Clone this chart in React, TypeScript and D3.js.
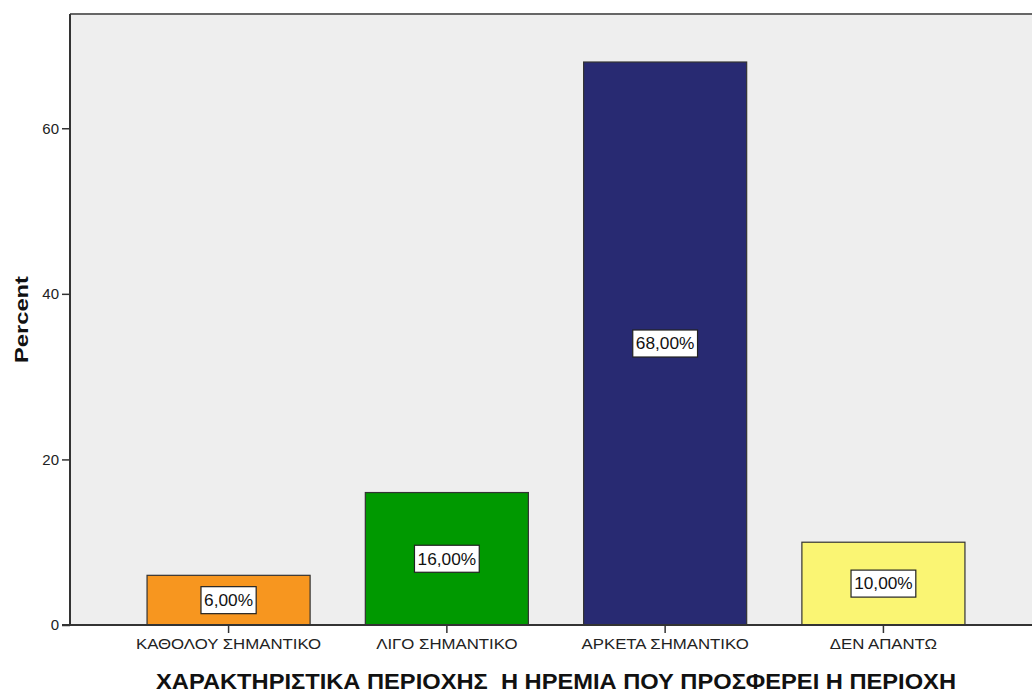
import React, { useEffect, useRef } from "react";
import * as d3 from "d3";

const categories = ["ΚΑΘΟΛΟΥ ΣΗΜΑΝΤΙΚΟ", "ΛΙΓΟ ΣΗΜΑΝΤΙΚΟ", "ΑΡΚΕΤΑ ΣΗΜΑΝΤΙΚΟ", "ΔΕΝ ΑΠΑΝΤΩ"];
const percents = [6, 16, 68, 10];
const labels = ["6,00%", "16,00%", "68,00%", "10,00%"];
const colors = ["#f7961f", "#009900", "#282a72", "#faf573"];
const yTicks = [0, 20, 40, 60];
const xTitle = "ΧΑΡΑΚΤΗΡΙΣΤΙΚΑ ΠΕΡΙΟΧΗΣ  Η ΗΡΕΜΙΑ ΠΟΥ ΠΡΟΣΦΕΡΕΙ Η ΠΕΡΙΟΧΗ";
const yTitle = "Percent";

const App = () => {
  const svgRef = useRef<SVGSVGElement>(null);

  useEffect(() => {
    const w = 1032;
    const h = 694;
    const left = 70;
    const right = 1042;
    const top = 14;
    const bottom = 625;
    const font = "'Liberation Sans', Arial, sans-serif";

    const svg = d3.select(svgRef.current).attr("width", w).attr("height", h);
    svg.selectAll("*").remove();

    // scales
    const x = d3
      .scaleBand()
      .domain(categories)
      .range([left, right])
      .paddingInner(0.253)
      .paddingOuter(0.353);
    const y = d3.scaleLinear().domain([0, 73.8]).range([bottom, top]);

    // plot background
    svg
      .append("rect")
      .attr("x", left)
      .attr("y", top)
      .attr("width", right - left)
      .attr("height", bottom - top)
      .attr("fill", "#eeeeee");
    svg
      .append("line")
      .attr("x1", left)
      .attr("x2", right)
      .attr("y1", top)
      .attr("y2", top)
      .attr("stroke", "#666")
      .attr("stroke-width", 2);

    // bars
    const bars = svg
      .selectAll("g.bar")
      .data(percents)
      .join("g")
      .attr("class", "bar");
    bars
      .append("rect")
      .attr("x", (d, i) => x(categories[i])!)
      .attr("y", (d) => y(d))
      .attr("width", x.bandwidth())
      .attr("height", (d) => bottom - y(d))
      .attr("fill", (d, i) => colors[i])
      .attr("stroke", "#333")
      .attr("stroke-width", 1.2);

    // value labels
    bars.each(function (d, i) {
      const g = d3.select(this);
      const cx = x(categories[i])! + x.bandwidth() / 2;
      const cy = (y(d) + bottom) / 2;
      const t = g
        .append("text")
        .attr("transform", `translate(${cx},${cy}) scale(1.08,1)`)
        .attr("dy", "0.36em")
        .attr("text-anchor", "middle")
        .attr("font-family", font)
        .attr("font-size", 16)
        .attr("fill", "#111")
        .text(labels[i]);
      const bw = (t.node() as SVGTextElement).getBBox().width * 1.08;
      g.insert("rect", "text")
        .attr("x", cx - bw / 2 - 3)
        .attr("y", cy - 13.5)
        .attr("width", bw + 6)
        .attr("height", 27)
        .attr("fill", "#fff")
        .attr("stroke", "#222")
        .attr("stroke-width", 1.2);
    });

    // axes
    const yAxis = d3.axisLeft(y).tickValues(yTicks).tickSize(8).tickPadding(3);
    svg
      .append("g")
      .attr("transform", `translate(${left},0)`)
      .call(yAxis)
      .call((g) => g.select(".domain").attr("d", `M0,${top}V${bottom}`).attr("stroke", "#333").attr("stroke-width", 2))
      .call((g) => g.selectAll(".tick line").attr("stroke", "#333").attr("stroke-width", 1.5))
      .call((g) =>
        g.selectAll(".tick text").attr("font-family", font).attr("font-size", 15).attr("fill", "#222")
      );

    const xAxis = d3.axisBottom(x).tickSize(8).tickPadding(5);
    svg
      .append("g")
      .attr("transform", `translate(0,${bottom})`)
      .call(xAxis)
      .call((g) => g.select(".domain").attr("d", `M${left - 8},0H${right}`).attr("stroke", "#333").attr("stroke-width", 2))
      .call((g) => g.selectAll(".tick line").attr("stroke", "#333").attr("stroke-width", 1.5))
      .call((g) =>
        g
          .selectAll(".tick text")
          .attr("font-family", font)
          .attr("font-size", 15)
          .attr("fill", "#222")
          .attr("transform", "scale(1.12,1)")
      );

    // axis titles
    svg
      .append("text")
      .attr("x", (left + right) / 2)
      .attr("y", 689)
      .attr("text-anchor", "middle")
      .attr("font-family", font)
      .attr("font-weight", "bold")
      .attr("font-size", 22)
      .attr("fill", "#111")
      .attr("textLength", 800)
      .attr("lengthAdjust", "spacingAndGlyphs")
      .style("white-space", "pre")
      .text(xTitle);

    svg
      .append("text")
      .attr("transform", `translate(28,${(top + bottom) / 2}) rotate(-90)`)
      .attr("text-anchor", "middle")
      .attr("font-family", font)
      .attr("font-weight", "bold")
      .attr("font-size", 19)
      .attr("fill", "#111")
      .attr("textLength", 87)
      .attr("lengthAdjust", "spacingAndGlyphs")
      .text(yTitle);
  }, []);

  return (
    <div>
      <svg ref={svgRef} style={{ position: "absolute", left: 0, top: 0 }}></svg>
    </div>
  );
};

export default App;
